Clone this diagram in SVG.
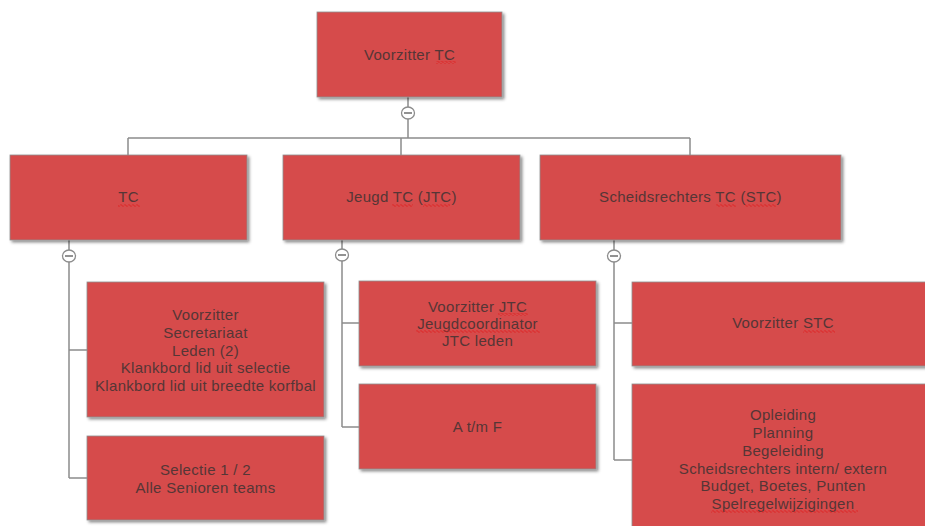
<svg xmlns="http://www.w3.org/2000/svg" width="925" height="526" viewBox="0 0 925 526">
<defs>
<filter id="sh" x="-5%" y="-5%" width="115%" height="120%">
<feDropShadow dx="2" dy="2" stdDeviation="1.5" flood-color="#000" flood-opacity="0.45"/>
</filter>
<pattern id="sq" width="4" height="3" patternUnits="userSpaceOnUse">
<path d="M0 1.5 L1 0.5 L3 2.5 L4 1.5" stroke="#e01c1c" stroke-width="0.9" fill="none"/>
</pattern>
</defs>
<style>
.box{fill:#d64c4c;stroke:#8f8f8f;stroke-width:0.8;filter:url(#sh)}
.t{font-family:"Liberation Sans",Arial,sans-serif;font-size:15px;fill:#553636;text-anchor:middle;letter-spacing:0.3px}
.c{fill:none;stroke:#8c8c8c;stroke-width:1.5}
.tg{fill:#fff;stroke:#8c8c8c;stroke-width:1.3}
.mn{stroke:#6e6e6e;stroke-width:1.5}
.sq{fill:url(#sq)}
</style>
<rect width="925" height="526" fill="#fff"/>
<g id="connectors">
<path class="c" d="M408 97 V138 M128 138 H690 M128 138 V155 M401 138 V155 M690 138 V155"/>
<path class="c" d="M69 240 V478 M69 350 H87 M69 478 H87"/>
<path class="c" d="M342 240 V427 M342 323 H359 M342 427 H359"/>
<path class="c" d="M614 240 V460 M614 323 H632 M614 460 H632"/>
<g id="toggles">
<ellipse class="tg" cx="408" cy="113" rx="6.5" ry="6"/><line class="mn" x1="404" y1="113" x2="412" y2="113"/>
<ellipse class="tg" cx="69" cy="256" rx="6.5" ry="6"/><line class="mn" x1="65" y1="256" x2="73" y2="256"/>
<ellipse class="tg" cx="342" cy="255" rx="6.5" ry="6"/><line class="mn" x1="338" y1="255" x2="346" y2="255"/>
<ellipse class="tg" cx="614" cy="256" rx="6.5" ry="6"/><line class="mn" x1="610" y1="256" x2="618" y2="256"/>
</g>
</g>
<g id="n-voorzitter-tc">
<rect class="box" x="317" y="12" width="185" height="85"/>
<text class="t" x="409.5" y="60">Voorzitter TC</text>
<rect class="sq" x="436" y="61" width="20" height="3"/>
</g>
<g id="n-tc">
<rect class="box" x="10" y="155" width="237" height="85"/>
<text class="t" x="128.5" y="202">TC</text>
<rect class="sq" x="118" y="204" width="22" height="3"/>
</g>
<g id="n-jtc">
<rect class="box" x="283" y="155" width="237" height="85"/>
<text class="t" x="401.5" y="202">Jeugd TC (JTC)</text>
<rect class="sq" x="392" y="204" width="21" height="3"/>
<rect class="sq" x="423" y="204" width="27" height="3"/>
</g>
<g id="n-stc">
<rect class="box" x="540" y="155" width="301" height="85"/>
<text class="t" x="690.5" y="202">Scheidsrechters TC (STC)</text>
<rect class="sq" x="716" y="204" width="20" height="3"/>
<rect class="sq" x="745" y="204" width="31" height="3"/>
</g>
<g id="n-tc-leden">
<rect class="box" x="87" y="282" width="237" height="135"/>
<text class="t" x="205.5" y="320">Voorzitter</text>
<text class="t" x="205.5" y="338">Secretariaat</text>
<text class="t" x="205.5" y="356">Leden (2)</text>
<text class="t" x="205.5" y="373">Klankbord lid uit selectie</text>
<text class="t" x="205.5" y="391">Klankbord lid uit breedte korfbal</text>
</g>
<g id="n-tc-teams">
<rect class="box" x="87" y="436" width="237" height="84"/>
<text class="t" x="205.5" y="475">Selectie 1 / 2</text>
<text class="t" x="205.5" y="493">Alle Senioren teams</text>
</g>
<g id="n-jtc-leden">
<rect class="box" x="359" y="281" width="237" height="85"/>
<text class="t" x="477.5" y="312">Voorzitter JTC</text>
<text class="t" x="477.5" y="329">Jeugdcoordinator</text>
<text class="t" x="477.5" y="346">JTC leden</text>
<rect class="sq" x="498" y="313" width="30" height="3"/>
<rect class="sq" x="416" y="330" width="124" height="3"/>
</g>
<g id="n-jtc-teams">
<rect class="box" x="359" y="384" width="237" height="85"/>
<text class="t" x="477.5" y="432">A t/m F</text>
</g>
<g id="n-stc-voorzitter">
<rect class="box" x="632" y="282" width="302" height="84"/>
<text class="t" x="783" y="328">Voorzitter STC</text>
<rect class="sq" x="803" y="330" width="32" height="3"/>
</g>
<g id="n-stc-taken">
<rect class="box" x="632" y="384" width="302" height="150"/>
<text class="t" x="783" y="420">Opleiding</text>
<text class="t" x="783" y="438">Planning</text>
<text class="t" x="783" y="456">Begeleiding</text>
<text class="t" x="783" y="474">Scheidsrechters intern/ extern</text>
<text class="t" x="783" y="491">Budget, Boetes, Punten</text>
<text class="t" x="783" y="509">Spelregelwijzigingen</text>
<rect class="sq" x="711" y="510" width="147" height="3"/>
</g>
</svg>
